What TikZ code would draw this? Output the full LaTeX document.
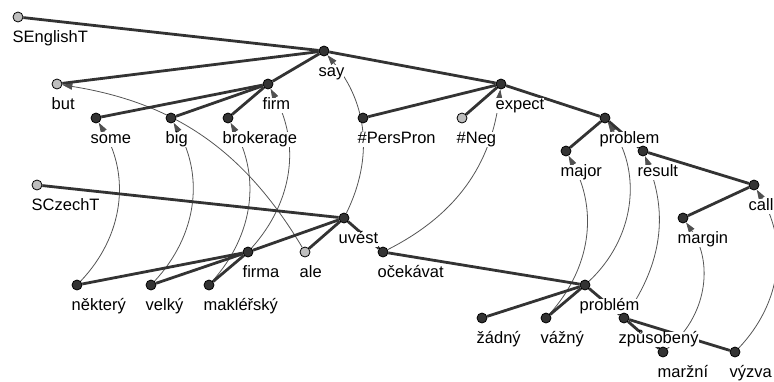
\documentclass[tikz,border=0pt]{standalone}
\usepackage{fontspec}
\setmainfont{Liberation Sans}
\usetikzlibrary{arrows.meta}

\definecolor{nodedark}{HTML}{333333}
\definecolor{nodelight}{HTML}{BEBEBE}
\definecolor{edgegray}{HTML}{333333}
\definecolor{aligngray}{HTML}{555555}
\definecolor{tipgray}{HTML}{505050}

\pgfdeclarelayer{bg}
\pgfsetlayers{bg,main}

\begin{document}
\begin{tikzpicture}[x=1pt, y=-1pt,
    tnode/.style={circle, draw=black, line width=0.8pt, fill=nodedark, inner sep=0pt, minimum size=10pt},
    tlight/.style={tnode, fill=nodelight},
    lbl/.style={anchor=north west, xshift=-5.5pt, yshift=-8.5pt, fill=white, inner sep=0pt,
        text height=11pt, text depth=3.5pt, font=\fontsize{16.5}{18}\selectfont},
    tedge/.style={draw=edgegray, line width=2.8pt},
    alignarrow/.style={draw=aligngray, line width=0.8pt,
        -{Triangle[length=10pt,width=6.5pt,color=tipgray]}, bend right=#1},
    alignarrow/.default=35]

    \useasboundingbox (0,0) rectangle (774,381);

    % English tree
    \node[tlight, label={[lbl]south:SEnglishT}] (SEnglishT) at (18,17) {};
    \node[tnode, label={[lbl]south:say}] (say) at (324,51) {};
    \node[tlight, label={[lbl]south:but}] (but) at (57,84) {};
    \node[tnode, label={[lbl]south:firm}] (firm) at (268,84) {};
    \node[tnode, label={[lbl]south:expect}] (expect) at (501,84) {};
    \node[tnode, label={[lbl]south:some}] (some) at (96,118) {};
    \node[tnode, label={[lbl]south:big}] (big) at (171,118) {};
    \node[tnode, label={[lbl]south:brokerage}] (brokerage) at (228,118) {};
    \node[tnode, label={[lbl]south:\#PersPron}] (PersPron) at (363,118) {};
    \node[tlight, label={[lbl]south:\#Neg}] (Neg) at (462,118) {};
    \node[tnode, label={[lbl]south:problem}] (problem) at (605,118) {};
    \node[tnode, label={[lbl]south:major}] (major) at (566,151) {};
    \node[tnode, label={[lbl]south:result}] (result) at (643,151) {};
    \node[tnode, label={[lbl]south:call}] (call) at (754,185) {};
    \node[tnode, label={[lbl]south:margin}] (margin) at (683,218) {};

    % Czech tree
    \node[tlight, label={[lbl]south:SCzechT}] (SCzechT) at (37,185) {};
    \node[tnode, label={[lbl]south:uvést}] (uvest) at (344,218) {};
    \node[tnode, label={[lbl]south:firma}] (firma) at (248,252) {};
    \node[tlight, label={[lbl]south:ale}] (ale) at (305,252) {};
    \node[tnode, label={[lbl]south:očekávat}] (ocekavat) at (383,252) {};
    \node[tnode, label={[lbl]south:některý}] (nektery) at (77,285) {};
    \node[tnode, label={[lbl]south:velký}] (velky) at (151,285) {};
    \node[tnode, label={[lbl]south:makléřský}] (maklersky) at (209,285) {};
    \node[tnode, label={[lbl]south:problém}] (problemcz) at (585,285) {};
    \node[tnode, label={[lbl]south:žádný}] (zadny) at (482,318) {};
    \node[tnode, label={[lbl]south:vážný}] (vazny) at (546,318) {};
    \node[tnode, label={[lbl]south:způsobený}] (zpusobeny) at (624,318) {};
    \node[tnode, label={[lbl]south:maržní}] (marzni) at (663,352) {};
    \node[tnode, label={[lbl]south:výzva}] (vyzva) at (735,352) {};

    \begin{pgfonlayer}{bg}
        % Alignment arrows
        \draw[alignarrow=37] (nektery) to (some);
        \draw[alignarrow=36] (velky) to (big);
        \draw[alignarrow] (maklersky) to (brokerage);
        \draw[alignarrow] (firma) to (firm);
        \draw[alignarrow=25] (ale) to (but);
        \draw[alignarrow=33] (uvest) to (say);
        \draw[alignarrow=28] (ocekavat) to (expect);
        \draw[alignarrow] (vazny) to (major);
        \draw[alignarrow=40] (problemcz) to (problem);
        \draw[alignarrow=28] (zpusobeny) to (result);
        \draw[alignarrow=43] (marzni) to (margin);
        \draw[alignarrow=37] (vyzva) to (call);

        % English edges
        \draw[tedge] (SEnglishT) -- (say);
        \draw[tedge] (say) -- (but);
        \draw[tedge] (say) -- (firm);
        \draw[tedge] (say) -- (expect);
        \draw[tedge] (firm) -- (some);
        \draw[tedge] (firm) -- (big);
        \draw[tedge] (firm) -- (brokerage);
        \draw[tedge] (expect) -- (PersPron);
        \draw[tedge] (expect) -- (Neg);
        \draw[tedge] (expect) -- (problem);
        \draw[tedge] (problem) -- (major);
        \draw[tedge] (problem) -- (result);
        \draw[tedge] (result) -- (call);
        \draw[tedge] (call) -- (margin);

        % Czech edges
        \draw[tedge] (SCzechT) -- (uvest);
        \draw[tedge] (uvest) -- (firma);
        \draw[tedge] (uvest) -- (ale);
        \draw[tedge] (uvest) -- (ocekavat);
        \draw[tedge] (firma) -- (nektery);
        \draw[tedge] (firma) -- (velky);
        \draw[tedge] (firma) -- (maklersky);
        \draw[tedge] (ocekavat) -- (problemcz);
        \draw[tedge] (problemcz) -- (zadny);
        \draw[tedge] (problemcz) -- (vazny);
        \draw[tedge] (problemcz) -- (zpusobeny);
        \draw[tedge] (zpusobeny) -- (marzni);
        \draw[tedge] (zpusobeny) -- (vyzva);
    \end{pgfonlayer}
\end{tikzpicture}
\end{document}
